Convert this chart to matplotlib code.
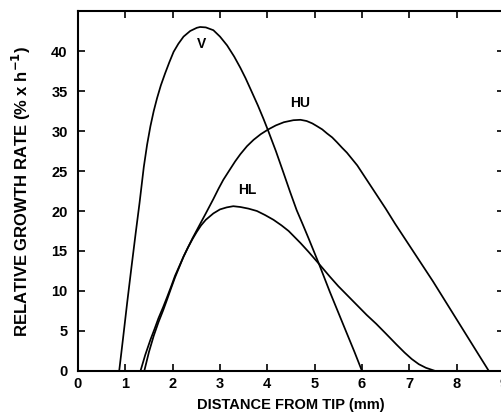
import matplotlib
matplotlib.use("Agg")
import matplotlib.pyplot as plt

# Data
v_x = [0.87, 0.95, 1.04, 1.13, 1.22, 1.30, 1.39, 1.46, 1.53, 1.60, 1.67, 1.75, 1.84, 1.93,
       2.02, 2.12, 2.23, 2.37, 2.51, 2.58, 2.70, 2.86, 3.00, 3.15, 3.30, 3.43, 3.54, 3.64,
       3.80, 3.92, 4.02, 4.18, 4.34, 4.48, 4.62, 4.75, 4.87, 5.09, 5.32, 5.50, 5.68, 5.84, 6.00]
v_y = [0.0, 4.0, 8.6, 13.0, 17.3, 21.0, 25.5, 28.3, 30.6, 32.5, 34.1, 35.7, 37.2, 38.6,
       39.9, 40.9, 41.8, 42.5, 42.9, 43.0, 42.95, 42.6, 41.8, 40.7, 39.3, 37.9, 36.6, 35.3,
       33.2, 31.5, 30.0, 27.5, 24.8, 22.4, 20.1, 18.3, 16.6, 13.4, 9.9, 7.3, 4.7, 2.4, 0.0]

hu_x = [1.40, 1.50, 1.60, 1.70, 1.80, 1.88, 1.97, 2.05, 2.14, 2.23, 2.32, 2.42, 2.51, 2.60,
        2.70, 2.86, 2.97, 3.07, 3.20, 3.32, 3.43, 3.57, 3.71, 3.86, 4.02, 4.18, 4.35, 4.55,
        4.70, 4.83, 4.95, 5.05, 5.16, 5.26, 5.37, 5.47, 5.58, 5.68, 5.90, 6.10, 6.30, 6.50,
        6.70, 6.90, 7.10, 7.30, 7.50, 7.70, 7.90, 8.10, 8.30, 8.50, 8.68]
hu_y = [0.0, 2.4, 4.4, 6.1, 7.6, 8.9, 10.4, 11.7, 13.0, 14.3, 15.4, 16.6, 17.6, 18.6,
        19.7, 21.5, 22.8, 23.9, 25.1, 26.2, 27.1, 28.1, 28.9, 29.6, 30.2, 30.7, 31.1, 31.35,
        31.4, 31.25, 30.95, 30.6, 30.2, 29.7, 29.2, 28.6, 27.9, 27.3, 25.7, 23.9, 22.1, 20.3,
        18.4, 16.6, 14.8, 13.0, 11.2, 9.3, 7.4, 5.5, 3.6, 1.7, 0.0]

hl_x = [1.32, 1.42, 1.53, 1.62, 1.70, 1.80, 1.88, 1.97, 2.05, 2.14, 2.23, 2.32, 2.42, 2.51,
        2.60, 2.70, 2.86, 3.00, 3.14, 3.28, 3.43, 3.60, 3.78, 3.95, 4.13, 4.30, 4.45, 4.55,
        4.70, 4.87, 5.09, 5.32, 5.50, 5.70, 5.90, 6.10, 6.30, 6.50, 6.73, 6.90, 7.05, 7.20,
        7.35, 7.55]
hl_y = [0.0, 2.0, 3.9, 5.3, 6.6, 8.0, 9.2, 10.6, 11.9, 13.1, 14.3, 15.4, 16.5, 17.4,
        18.2, 18.9, 19.7, 20.2, 20.45, 20.6, 20.5, 20.3, 20.0, 19.5, 18.9, 18.2, 17.5, 16.9,
        16.0, 14.9, 13.4, 11.8, 10.6, 9.4, 8.2, 7.0, 5.9, 4.7, 3.3, 2.3, 1.5, 0.85,
        0.4, 0.0]

labels = ["V", "HU", "HL"]
label_x = [2.61, 4.69, 3.57]
label_y = [40.9, 33.5, 22.6]

x_ticks = list(range(0, 10))
y_ticks = list(range(0, 45, 5))

plt.rcParams['font.family'] = ['Liberation Sans', 'DejaVu Sans']

fig = plt.figure(figsize=(5.02, 4.19), dpi=100)
ax = fig.add_axes([78 / 502, 1 - 371 / 419, (504 - 78) / 502, 360 / 419])

for xs, ys in [(v_x, v_y), (hu_x, hu_y), (hl_x, hl_y)]:
    ax.plot(xs, ys, color="black", lw=1.25, solid_joinstyle="round")

for t, lx, ly in zip(labels, label_x, label_y):
    ax.text(lx, ly, t, ha="center", va="center", fontsize=10, fontweight="bold")

ax.set_xlim(0, 9)
ax.set_ylim(0, 45)
ax.set_xticks(x_ticks)
ax.set_yticks(y_ticks)
ax.tick_params(direction="in", length=5, width=1.2, top=True, right=True,
               labelsize=10.5)
ax.tick_params(axis="x", pad=4.5)
ax.tick_params(axis="y", pad=7.5)
for lab in ax.get_xticklabels() + ax.get_yticklabels():
    lab.set_fontweight("bold")
for s in ax.spines.values():
    s.set_linewidth(1.5)

ax.set_xlabel("DISTANCE FROM TIP (mm)", fontsize=10.5, fontweight="bold", labelpad=5)
ax.set_ylabel("RELATIVE GROWTH RATE (% x h$^{\\mathbf{-1}}$)", fontsize=12,
              fontweight="bold", labelpad=13)

fig.savefig("out.png", dpi=100)
